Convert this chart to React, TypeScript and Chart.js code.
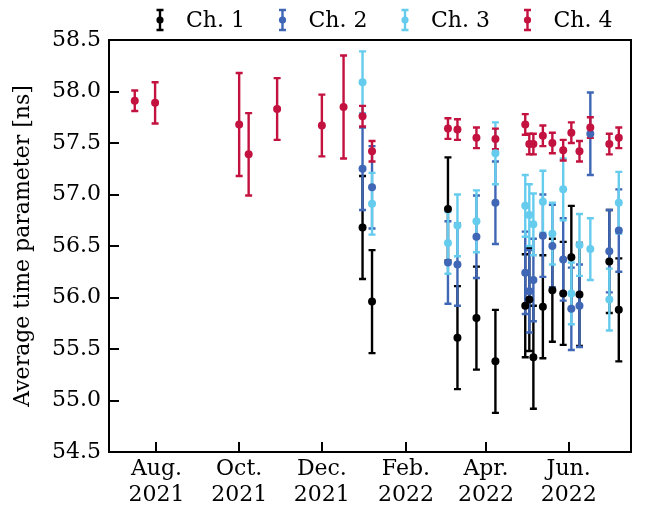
import React, { useEffect, useRef } from "react";
import { Chart, registerables } from "chart.js";

Chart.register(...registerables);

// ---- measurement data (date, average time parameter [ns], 1-sigma error) ----
const ch1Dates = [
  "2021-12-31", "2022-01-07", "2022-03-04", "2022-03-11", "2022-03-25", "2022-04-08",
  "2022-04-30", "2022-05-03", "2022-05-06", "2022-05-13", "2022-05-20", "2022-05-28",
  "2022-06-03", "2022-06-09", "2022-07-01", "2022-07-08",
];
const ch1Values = [56.68, 55.96, 56.86, 55.61, 55.80, 55.38, 55.92, 55.98, 55.42, 55.91, 56.07, 56.04, 56.39, 56.03, 56.35, 55.88];
const ch1Errors = [0.5, 0.5, 0.5, 0.5, 0.5, 0.5, 0.5, 0.5, 0.5, 0.5, 0.5, 0.5, 0.5, 0.5, 0.5, 0.5];

const ch2Dates = [
  "2021-12-31", "2022-01-07", "2022-03-04", "2022-03-11", "2022-03-25", "2022-04-08",
  "2022-04-30", "2022-05-03", "2022-05-06", "2022-05-13", "2022-05-20", "2022-05-28",
  "2022-06-03", "2022-06-09", "2022-06-17", "2022-07-01", "2022-07-08",
];
const ch2Values = [57.25, 57.07, 56.34, 56.32, 56.59, 56.92, 56.24, 56.06, 56.17, 56.60, 56.50, 56.37, 55.89, 55.92, 57.59, 56.45, 56.65];
const ch2Errors = [0.4, 0.4, 0.4, 0.4, 0.4, 0.4, 0.4, 0.4, 0.4, 0.4, 0.4, 0.4, 0.4, 0.4, 0.4, 0.4, 0.4];

const ch3Dates = [
  "2021-12-31", "2022-01-07", "2022-03-04", "2022-03-11", "2022-03-25", "2022-04-08",
  "2022-04-30", "2022-05-03", "2022-05-06", "2022-05-13", "2022-05-20", "2022-05-28",
  "2022-06-03", "2022-06-09", "2022-06-17", "2022-07-01", "2022-07-08",
];
const ch3Values = [58.09, 56.91, 56.53, 56.70, 56.74, 57.40, 56.89, 56.80, 56.71, 56.93, 56.62, 57.05, 56.04, 56.51, 56.47, 55.98, 56.92];
const ch3Errors = [0.3, 0.3, 0.3, 0.3, 0.3, 0.3, 0.3, 0.3, 0.3, 0.3, 0.3, 0.3, 0.3, 0.3, 0.3, 0.3, 0.3];

const ch4Dates = [
  "2021-07-16", "2021-07-31", "2021-10-01", "2021-10-08", "2021-10-29", "2021-12-01",
  "2021-12-17", "2021-12-31", "2022-01-07", "2022-03-04", "2022-03-11", "2022-03-25",
  "2022-04-08", "2022-04-30", "2022-05-03", "2022-05-06", "2022-05-13", "2022-05-20",
  "2022-05-28", "2022-06-03", "2022-06-09", "2022-06-17", "2022-07-01", "2022-07-08",
];
const ch4Values = [57.91, 57.89, 57.68, 57.39, 57.83, 57.67, 57.85, 57.76, 57.42, 57.64, 57.63, 57.55, 57.54, 57.68, 57.49, 57.49, 57.57, 57.50, 57.43, 57.60, 57.42, 57.65, 57.49, 57.55];
const ch4Errors = [0.1, 0.2, 0.5, 0.4, 0.3, 0.3, 0.5, 0.1, 0.1, 0.1, 0.1, 0.1, 0.1, 0.1, 0.1, 0.1, 0.1, 0.1, 0.1, 0.1, 0.1, 0.1, 0.1, 0.1];

const seriesLabels = ["Ch. 1", "Ch. 2", "Ch. 3", "Ch. 4"];
const seriesColors = ["#000000", "#3f67b6", "#66ccee", "#c3123f"];

// axis ticks
const tickDates = ["2021-08-01", "2021-10-01", "2021-12-01", "2022-02-01", "2022-04-01", "2022-06-01"];
const tickLabels = [
  ["Aug.", "2021"], ["Oct.", "2021"], ["Dec.", "2021"],
  ["Feb.", "2022"], ["Apr.", "2022"], ["Jun.", "2022"],
];
const xRange = ["2021-06-27", "2022-07-17"];
const yMin = 54.5;
const yMax = 58.5;
const yStep = 0.5;
const yTitle = "Average time parameter [ns]";

const FONT = '"DejaVu Serif", "Liberation Serif", serif';
const FONT_SIZE = 22;

const dayNum = (d: string) => Date.parse(d + "T00:00:00Z") / 86400000;

const buildPoints = (dates: string[], values: number[]) =>
  dates.map((d, i) => ({ x: dayNum(d), y: values[i] }));

const seriesData = [
  { dates: ch1Dates, values: ch1Values, errors: ch1Errors },
  { dates: ch2Dates, values: ch2Values, errors: ch2Errors },
  { dates: ch3Dates, values: ch3Values, errors: ch3Errors },
  { dates: ch4Dates, values: ch4Values, errors: ch4Errors },
];

const CAP_HALF = 3.5;
const BAR_WIDTH = 2.4;
const MARKER_RADIUS = 4;

function drawErrorGlyph(ctx: CanvasRenderingContext2D, x: number, yTop: number, yBot: number, color: string) {
  ctx.strokeStyle = color;
  ctx.lineWidth = BAR_WIDTH;
  ctx.lineCap = "butt";
  ctx.beginPath();
  ctx.moveTo(x, yTop);
  ctx.lineTo(x, yBot);
  ctx.moveTo(x - CAP_HALF, yTop);
  ctx.lineTo(x + CAP_HALF, yTop);
  ctx.moveTo(x - CAP_HALF, yBot);
  ctx.lineTo(x + CAP_HALF, yBot);
  ctx.stroke();
}

// vertical error bars, drawn under all markers
const errorBarPlugin = {
  id: "errorBars",
  beforeDatasetsDraw(chart: any) {
    const { ctx, chartArea, scales } = chart;
    ctx.save();
    ctx.beginPath();
    ctx.rect(chartArea.left, chartArea.top, chartArea.right - chartArea.left, chartArea.bottom - chartArea.top);
    ctx.clip();
    chart.data.datasets.forEach((ds: any) => {
      ds.data.forEach((p: any, i: number) => {
        const e = ds.errors[i];
        const x = scales.x.getPixelForValue(p.x);
        const yTop = scales.y.getPixelForValue(p.y + e);
        const yBot = scales.y.getPixelForValue(p.y - e);
        drawErrorGlyph(ctx, x, yTop, yBot, ds.borderColor);
      });
    });
    ctx.restore();
  },
};

// frame and inward tick marks
const frameTicksPlugin = {
  id: "frameTicks",
  afterDraw(chart: any) {
    const { ctx, chartArea, scales } = chart;
    const { left, right, top, bottom } = chartArea;
    ctx.save();
    ctx.strokeStyle = "#000";
    ctx.lineWidth = 2;
    ctx.beginPath();
    scales.y.ticks.forEach((t: any) => {
      const y = Math.round(scales.y.getPixelForValue(t.value));
      ctx.moveTo(left, y);
      ctx.lineTo(left + 10, y);
    });
    scales.x.ticks.forEach((t: any) => {
      const x = Math.round(scales.x.getPixelForValue(t.value));
      ctx.moveTo(x, bottom);
      ctx.lineTo(x, bottom - 10);
    });
    ctx.stroke();
    ctx.strokeRect(left, top, right - left, bottom - top);
    ctx.restore();
  },
};

// legend row above the plot: error-bar glyph followed by channel name
const legendPlugin = {
  id: "errorLegend",
  afterDraw(chart: any) {
    const { ctx, chartArea } = chart;
    ctx.save();
    ctx.font = `${FONT_SIZE}px ${FONT}`;
    ctx.textBaseline = "middle";
    ctx.textAlign = "left";
    seriesLabels.forEach((label, i) => {
      const cx = chartArea.left + 51 + i * 122.5;
      const cy = 20;
      drawErrorGlyph(ctx, cx, cy - 10, cy + 10, seriesColors[i]);
      ctx.fillStyle = seriesColors[i];
      ctx.beginPath();
      ctx.arc(cx, cy, MARKER_RADIUS - 0.4, 0, Math.PI * 2);
      ctx.fill();
      ctx.fillStyle = "#000";
      ctx.fillText(label, cx + 26, cy + 1.5);
    });
    ctx.restore();
  },
};

export default function App() {
  const canvasRef = useRef<HTMLCanvasElement | null>(null);

  useEffect(() => {
    const canvas = canvasRef.current;
    if (!canvas) return;

    const datasets = seriesData.map((s, i) => ({
      label: seriesLabels[i],
      data: buildPoints(s.dates, s.values),
      errors: s.errors,
      borderColor: seriesColors[i],
      backgroundColor: seriesColors[i],
      pointBackgroundColor: seriesColors[i],
      pointBorderWidth: 0,
      pointRadius: MARKER_RADIUS,
      pointHoverRadius: MARKER_RADIUS,
      showLine: false,
      order: seriesLabels.length - i,
    }));

    const chart = new Chart(canvas, {
      type: "scatter",
      data: { datasets } as any,
      options: {
        responsive: false,
        animation: false,
        devicePixelRatio: 1,
        layout: { padding: { top: 40, right: 15, left: 0, bottom: 0 } },
        plugins: {
          legend: { display: false },
          tooltip: { enabled: false },
        },
        scales: {
          x: {
            type: "linear",
            min: dayNum(xRange[0]),
            max: dayNum(xRange[1]),
            grid: { display: false, drawTicks: false },
            border: { display: false },
            afterBuildTicks: (scale: any) => {
              scale.ticks = tickDates.map((d) => ({ value: dayNum(d) }));
            },
            afterFit: (scale: any) => {
              scale.height = 60;
            },
            ticks: {
              autoSkip: false,
              maxRotation: 0,
              minRotation: 0,
              padding: 4,
              color: "#000",
              font: { family: FONT, size: FONT_SIZE, lineHeight: 1.2 },
              callback: (value: any) => {
                const idx = tickDates.findIndex((d) => Math.abs(dayNum(d) - value) < 0.01);
                return idx >= 0 ? tickLabels[idx] : "";
              },
            },
          },
          y: {
            type: "linear",
            min: yMin,
            max: yMax,
            grid: { display: false, drawTicks: false },
            border: { display: false },
            afterFit: (scale: any) => {
              scale.width = 109;
            },
            ticks: {
              stepSize: yStep,
              padding: 8,
              color: "#000",
              font: { family: FONT, size: FONT_SIZE },
              callback: (value: any) => Number(value).toFixed(1),
            },
            title: {
              display: true,
              text: yTitle,
              color: "#000",
              padding: { top: 10, bottom: 0 },
              font: { family: FONT, size: FONT_SIZE, lineHeight: 1.2 },
            },
          },
        },
      },
      plugins: [errorBarPlugin, frameTicksPlugin, legendPlugin],
    } as any);

    return () => chart.destroy();
  }, []);

  return (
    <div style={{ position: "absolute", left: 0, top: 0, width: 646, height: 512, background: "#fff" }}>
      <canvas ref={canvasRef} width={646} height={512} />
    </div>
  );
}
